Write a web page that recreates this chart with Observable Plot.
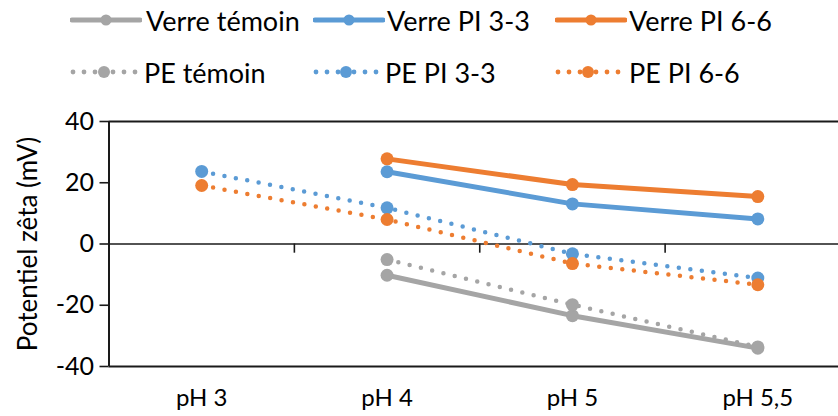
<!DOCTYPE html>
<html>
<head>
<meta charset="utf-8">
<script src="https://cdn.jsdelivr.net/npm/d3@7"></script>
<script src="https://cdn.jsdelivr.net/npm/@observablehq/plot@0.6"></script>
<style>
  body { margin: 0; background: #fff; font-family: Lato, "Open Sans", sans-serif; }
  #wrap { position: relative; width: 838px; height: 416px; overflow: hidden; }
  #legend { position: absolute; left: 0; top: 0; width: 838px; height: 100px; }
  .item { position: absolute; display: flex; align-items: center; height: 40px; }
  .item span { font-size: 27px; color: #000; margin-left: 6px; white-space: nowrap; }
  #chart { position: absolute; left: 0; top: 100px; }
</style>
</head>
<body>
<div id="wrap">
  <div id="legend"></div>
  <div id="chart"></div>
</div>
<script>
// ---- data ----
const categories = ["pH 3", "pH 4", "pH 5", "pH 5,5"];
const seriesNames = ["Verre témoin", "Verre PI 3-3", "Verre PI 6-6", "PE témoin", "PE PI 3-3", "PE PI 6-6"];
const verreTemoin = [null, -10.2, -23.4, -34];
const verrePI33   = [null, 23.6, 13.1, 8.2];
const verrePI66   = [null, 27.8, 19.4, 15.5];
const peTemoin    = [null, -5.1, -19.8, -33.6];
const pePI33      = [23.7, 11.8, -3.2, -11.1];
const pePI66      = [19.1, 8.0, -6.4, -13.3];
const yTicks = [-40, -20, 0, 20, 40];
const yLabel = "Potentiel zêta (mV)";

const seriesValues = [verreTemoin, verrePI33, verrePI66, peTemoin, pePI33, pePI66];

// ---- styles ----
const colors = ["#A5A5A5", "#5B9BD5", "#ED7D31", "#A5A5A5", "#5B9BD5", "#ED7D31"];
const dotted = [false, false, false, true, true, true];

const rows = [];
seriesNames.forEach((name, s) => {
  seriesValues[s].forEach((v, i) => {
    if (v !== null) rows.push({series: name, idx: i, value: v});
  });
});

const bounds = d3.range(categories.length + 1).map(i => i - 0.5);

const marks = [
  Plot.ruleY([yTicks[0], yTicks[yTicks.length - 1]], {stroke: "#1a1a1a", strokeWidth: 2}),
  Plot.ruleY([0], {stroke: "#1a1a1a", strokeWidth: 1.6}),
  Plot.ruleX([bounds[0]], {y1: yTicks[0], y2: yTicks[yTicks.length - 1], stroke: "#1a1a1a", strokeWidth: 2}),
  Plot.ruleX(bounds.slice(1), {y1: 0, y2: -3, stroke: "#1a1a1a", strokeWidth: 1.6}),
  Plot.axisY({ticks: yTicks, tickFormat: d => String(d), tickSize: 9, tickPadding: 6, fontSize: 25, label: null, stroke: "#1a1a1a", strokeWidth: 1.6}),
  Plot.text([yLabel], {frameAnchor: "left", textAnchor: "middle", rotate: -90, dx: -80, fontSize: 26, fill: "#000"}),
  Plot.axisX({ticks: d3.range(categories.length), tickFormat: i => categories[i], tickSize: 0, tickPadding: 22, fontSize: 24, label: null})
];

seriesNames.forEach((name, s) => {
  const d = rows.filter(r => r.series === name);
  marks.push(Plot.line(d, {
    x: "idx", y: "value", stroke: colors[s],
    strokeWidth: dotted[s] ? 4.5 : 5,
    strokeDasharray: dotted[s] ? "0 11.6" : null,
    strokeLinecap: "round", strokeLinejoin: "round"
  }));
  marks.push(Plot.dot(d, {x: "idx", y: "value", r: 6.5, fill: colors[s], stroke: "none"}));
});

const chart = Plot.plot({
  width: 838,
  height: 316,
  marginTop: 21,
  marginBottom: 50,
  marginLeft: 108.5,
  marginRight: 0,
  style: {fontFamily: "Lato, 'Open Sans', sans-serif", color: "#000", background: "#fff", overflow: "hidden"},
  x: {type: "linear", domain: [bounds[0], bounds[bounds.length - 1]], range: [108.5, 850], axis: null},
  y: {domain: [yTicks[0], yTicks[yTicks.length - 1]], axis: null},
  marks
});
document.getElementById("chart").appendChild(chart);

// ---- legend ----
const legendPos = [
  {left: 70, top: 0, w: 72, text: 8}, {left: 313, top: 0, w: 72, text: 6}, {left: 555, top: 0, w: 72, text: 6},
  {left: 70, top: 52, w: 68, text: 10}, {left: 313, top: 52, w: 66, text: 10}, {left: 555, top: 52, w: 66, text: 12}
];
const legend = d3.select("#legend");
seriesNames.forEach((name, s) => {
  const p = legendPos[s];
  const item = legend.append("div").attr("class", "item").style("left", p.left + "px").style("top", p.top + "px");
  const svg = item.append("svg").attr("width", p.w).attr("height", 40);
  if (dotted[s]) {
    const xs = [3, 14, 25, p.w - 25, p.w - 14, p.w - 3];
    xs.forEach(x => svg.append("circle").attr("cx", x).attr("cy", 20).attr("r", 2.4).attr("fill", colors[s]));
    svg.append("circle").attr("cx", p.w / 2).attr("cy", 20).attr("r", 6).attr("fill", colors[s]);
  } else {
    svg.append("line").attr("x1", 2).attr("x2", p.w - 2).attr("y1", 20).attr("y2", 20)
      .attr("stroke", colors[s]).attr("stroke-width", 5).attr("stroke-linecap", "round");
    svg.append("circle").attr("cx", p.w / 2).attr("cy", 20).attr("r", 5.5).attr("fill", colors[s]);
  }
  item.append("span").style("margin-left", (p.text - 4) + "px").text(name);
});
</script>
</body>
</html>
